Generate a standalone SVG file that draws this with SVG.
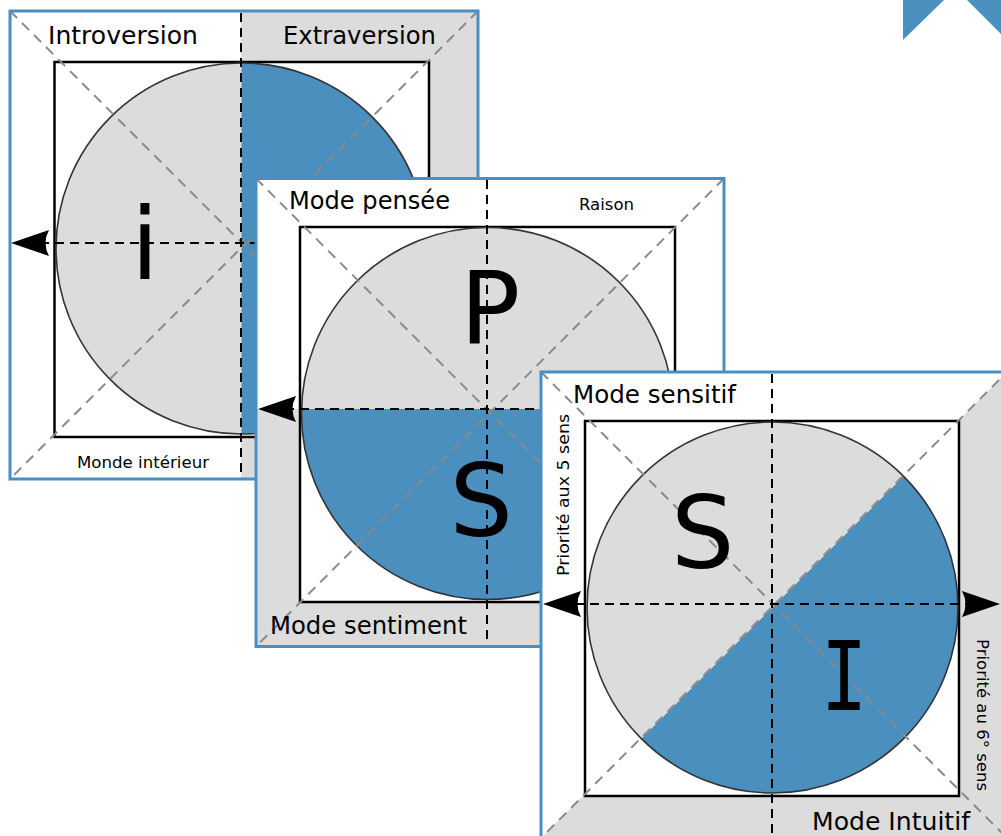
<svg xmlns="http://www.w3.org/2000/svg" xmlns:xlink="http://www.w3.org/1999/xlink" width="1001" height="836" viewBox="0 0 1001 836">
<style>
.frame{fill:none;stroke:#4a8fc3;stroke-width:3}
.bg{fill:#ffffff}
.gray{fill:#dcdcdc}
.blue{fill:#4b8fbf}
.sq{fill:#ffffff;stroke:#000;stroke-width:2.5}
.circ{fill:none;stroke:#333;stroke-width:1.6}
.diag{stroke:#8a8a8a;stroke-width:2;stroke-dasharray:10 7;fill:none}
.axis{stroke:#000;stroke-width:2;stroke-dasharray:9 6;fill:none}
.lbl{font-family:"DejaVu Sans",Verdana,sans-serif;fill:#000}
.big{font-family:"DejaVu Sans",Verdana,sans-serif;font-size:100px;fill:#000}
.arr{fill:#000}
</style>
<defs>
<path id="arrowL" d="M0,0 L38,-13 Q31,0 38,13 Z"/>
<clipPath id="c1"><circle cx="241.5" cy="248.5" r="185.5"/></clipPath>
<clipPath id="c2"><circle cx="487.5" cy="413.5" r="186"/></clipPath>
<clipPath id="c3"><circle cx="772.5" cy="607.5" r="185.5"/></clipPath>
<clipPath id="p3"><rect x="541" y="372" width="470" height="470"/></clipPath>
</defs>

<g id="corner-mark">
<polygon class="blue" points="903,0 944,0 903,40"/>
<polygon class="blue" points="967,0 1001,0 1001,34"/>
</g>

<g id="panel-introversion">
<rect class="bg" x="10" y="11" width="468" height="468"/>
<rect class="gray" x="241" y="11" width="237" height="468"/>
<rect class="sq" x="54.5" y="62" width="374.5" height="375"/>
<g clip-path="url(#c1)">
<rect class="gray" x="50" y="55" width="191.5" height="390"/>
<rect class="blue" x="241.5" y="55" width="200" height="390"/>
</g>
<circle class="circ" cx="241.5" cy="248.5" r="185.5"/>
<line class="diag" x1="10" y1="11" x2="478" y2="479"/>
<line class="diag" x1="478" y1="11" x2="10" y2="479"/>
<g class="connectors">
<line class="axis" x1="241" y1="13" x2="241" y2="478"/>
<line class="axis" x1="40" y1="243" x2="476" y2="243"/>
<use href="#arrowL" xlink:href="#arrowL" class="arr" transform="translate(11,243)"/>
</g>
<text class="lbl" x="48" y="44" font-size="25" textLength="150" lengthAdjust="spacingAndGlyphs">Introversion</text>
<text class="lbl" x="283" y="44" font-size="25" textLength="153" lengthAdjust="spacingAndGlyphs">Extraversion</text>
<text class="lbl" x="77" y="468" font-size="16" textLength="132" lengthAdjust="spacingAndGlyphs">Monde intérieur</text>
<text class="big" x="131" y="279" font-size="96">i</text>
<rect class="frame" x="10" y="11" width="468" height="468"/>
</g>

<g id="panel-pensee">
<rect class="bg" x="256" y="178.5" width="468" height="468"/>
<rect class="gray" x="256" y="409" width="468" height="237.5"/>
<rect class="sq" x="300" y="227" width="375" height="375"/>
<g clip-path="url(#c2)">
<rect class="gray" x="295" y="220" width="390" height="189"/>
<rect class="blue" x="295" y="409" width="390" height="200"/>
</g>
<circle class="circ" cx="487.5" cy="413.5" r="186"/>
<line class="diag" x1="256" y1="178.5" x2="724" y2="646.5"/>
<line class="diag" x1="724" y1="178.5" x2="256" y2="646.5"/>
<g class="connectors">
<line class="axis" x1="487" y1="180" x2="487" y2="645"/>
<line class="axis" x1="285" y1="409" x2="722" y2="409"/>
<use href="#arrowL" xlink:href="#arrowL" class="arr" transform="translate(258,409)"/>
</g>
<text class="lbl" x="289" y="209" font-size="25" textLength="161" lengthAdjust="spacingAndGlyphs">Mode pensée</text>
<text class="lbl" x="579" y="210" font-size="16.5" textLength="55" lengthAdjust="spacingAndGlyphs">Raison</text>
<text class="lbl" x="270" y="634" font-size="25" textLength="197" lengthAdjust="spacingAndGlyphs">Mode sentiment</text>
<text class="big" x="460" y="343">P</text>
<text class="big" x="449.5" y="536">S</text>
<rect class="frame" x="256" y="178.5" width="468" height="468"/>
</g>

<g id="panel-sensitif">
<rect class="bg" x="541" y="372" width="470" height="470"/>
<polygon class="gray" clip-path="url(#p3)" points="541,838 1007,372 1011,372 1011,842 541,842"/>
<rect class="sq" x="585" y="421" width="374" height="375"/>
<g clip-path="url(#c3)">
<rect class="gray" x="580" y="415" width="390" height="390"/>
<polygon class="blue" points="500,880 1051,329 1051,880"/>
</g>
<circle class="circ" cx="772.5" cy="607.5" r="185.5"/>
<line class="diag" x1="541" y1="372" x2="1011" y2="842"/>
<line class="diag" x1="1011" y1="368" x2="541" y2="838"/>
<g class="connectors">
<line class="axis" x1="772" y1="374" x2="772" y2="836"/>
<line class="axis" x1="575" y1="604" x2="970" y2="604"/>
<use href="#arrowL" xlink:href="#arrowL" class="arr" transform="translate(543,604)"/>
<use href="#arrowL" xlink:href="#arrowL" class="arr" transform="translate(1000,604) scale(-1,1)"/>
</g>
<text class="lbl" x="573" y="403" font-size="25" textLength="163" lengthAdjust="spacingAndGlyphs">Mode sensitif</text>
<text class="lbl" x="812" y="830" font-size="25" textLength="158" lengthAdjust="spacingAndGlyphs">Mode Intuitif</text>
<text class="lbl" font-size="16.5" text-anchor="middle" textLength="162" lengthAdjust="spacingAndGlyphs" transform="translate(569,495) rotate(-90)">Priorité aux 5 sens</text>
<text class="lbl" font-size="16.5" text-anchor="middle" textLength="152" lengthAdjust="spacingAndGlyphs" transform="translate(977,715) rotate(90)">Priorité au 6° sens</text>
<text class="big" x="671" y="568">S</text>
<text font-size="96" text-anchor="middle" transform="translate(844,710) scale(0.8,1)" style="font-family:'DejaVu Sans Mono',monospace;fill:#000">I</text>
<rect class="frame" x="541" y="372" width="470" height="470"/>
</g>
</svg>
